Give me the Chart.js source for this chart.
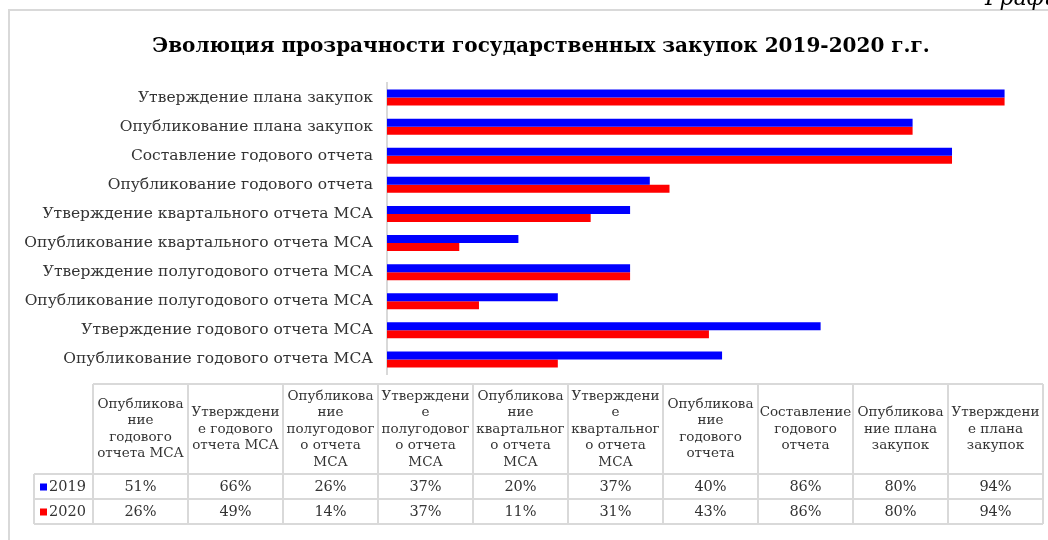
<!DOCTYPE html>
<html>
<head>
<meta charset="utf-8">
<script src="https://cdn.jsdelivr.net/npm/chart.js@4/dist/chart.umd.min.js"></script>
<style>
html, body { margin: 0; padding: 0; background: #fff; }
#wrap { position: relative; width: 1048px; height: 540px; overflow: hidden; }
</style>
</head>
<body>
<div id="wrap"><canvas id="chart" width="1048" height="540"></canvas></div>
<script>
// категории в порядке таблицы (в графике идут снизу вверх)
var categories = [
	'Опубликование годового отчета МСА',
	'Утверждение годового отчета МСА',
	'Опубликование полугодового отчета МСА',
	'Утверждение полугодового отчета МСА',
	'Опубликование квартального отчета МСА',
	'Утверждение квартального отчета МСА',
	'Опубликование годового отчета',
	'Составление годового отчета',
	'Опубликование плана закупок',
	'Утверждение плана закупок'
];
// заголовки столбцов таблицы данных, с переносами как в оригинале
var tableHeaders = [
	['Опубликова', 'ние', 'годового', 'отчета МСА'],
	['Утверждени', 'е годового', 'отчета МСА'],
	['Опубликова', 'ние', 'полугодовог', 'о отчета', 'МСА'],
	['Утверждени', 'е', 'полугодовог', 'о отчета', 'МСА'],
	['Опубликова', 'ние', 'квартальног', 'о отчета', 'МСА'],
	['Утверждени', 'е', 'квартальног', 'о отчета', 'МСА'],
	['Опубликова', 'ние', 'годового', 'отчета'],
	['Составление', 'годового', 'отчета'],
	['Опубликова', 'ние плана', 'закупок'],
	['Утверждени', 'е плана', 'закупок']
];
var seriesNames = ['2019', '2020'];
var values2019 = [51, 66, 26, 37, 20, 37, 40, 86, 80, 94];
var values2020 = [26, 49, 14, 37, 11, 31, 43, 86, 80, 94];
var seriesColors = ['#0000ff', '#ff0000'];
var chartTitle = 'Эволюция прозрачности государственных закупок 2019-2020 г.г.';

var SERIF = '"DejaVu Serif", serif';
var GRID = '#d9d9d9';

// рамка области диаграммы, заголовок и обрывок подписи из документа
var framePlugin = {
	id: 'frame',
	beforeDraw: function (chart) {
		var ctx = chart.ctx;
		ctx.save();
		ctx.strokeStyle = GRID;
		ctx.lineWidth = 2;
		ctx.strokeRect(9, 10, 1200, 700);
		ctx.fillStyle = '#000';
		ctx.font = 'italic 22px ' + SERIF;
		ctx.textBaseline = 'alphabetic';
		ctx.fillText('График 1', 985, 5);
		ctx.font = 'bold 20px ' + SERIF;
		ctx.textAlign = 'center';
		ctx.fillText(chartTitle, 541, 52);
		ctx.restore();
	}
};

// таблица данных под графиком
var tablePlugin = {
	id: 'dataTable',
	afterDraw: function (chart) {
		var ctx = chart.ctx,
			area = chart.chartArea,
			legendLeft = 34,
			left = 93,
			right = area.right - 1,
			top = 384,
			headBottom = 474,
			rowH = 25,
			colW = (right - left) / categories.length,
			rows = [values2019, values2020],
			i, j;
		ctx.save();
		ctx.strokeStyle = GRID;
		ctx.lineWidth = 2;
		ctx.beginPath();
		ctx.moveTo(left, top); ctx.lineTo(right, top);
		for (j = 0; j <= rows.length; j++) {
			ctx.moveTo(legendLeft, headBottom + j * rowH);
			ctx.lineTo(right, headBottom + j * rowH);
		}
		ctx.moveTo(legendLeft, headBottom);
		ctx.lineTo(legendLeft, headBottom + rows.length * rowH);
		for (i = 0; i <= categories.length; i++) {
			ctx.moveTo(left + i * colW, top);
			ctx.lineTo(left + i * colW, headBottom + rows.length * rowH);
		}
		ctx.stroke();

		ctx.fillStyle = '#333';
		ctx.textAlign = 'center';
		ctx.textBaseline = 'middle';
		ctx.font = '13.5px ' + SERIF;
		var lh = 16.5, mid = (top + headBottom) / 2;
		tableHeaders.forEach(function (lines, c) {
			var cx = left + (c + 0.5) * colW,
				y0 = mid - (lines.length - 1) * lh / 2;
			lines.forEach(function (t, k) {
				ctx.fillText(t, cx, y0 + k * lh);
			});
		});

		ctx.font = '14.5px ' + SERIF;
		rows.forEach(function (vals, r) {
			var cy = headBottom + (r + 0.5) * rowH + 1;
			vals.forEach(function (v, c) {
				ctx.fillText(v + '%', left + (c + 0.5) * colW, cy);
			});
			ctx.fillStyle = seriesColors[r];
			ctx.fillRect(40, cy - 4, 7, 7);
			ctx.fillStyle = '#333';
			ctx.textAlign = 'left';
			ctx.fillText(seriesNames[r], 49, cy);
			ctx.textAlign = 'center';
		});
		ctx.restore();
	}
};

new Chart(document.getElementById('chart'), {
	type: 'bar',
	data: {
		labels: categories,
		datasets: [
			{ label: seriesNames[0], data: values2019, backgroundColor: seriesColors[0] },
			{ label: seriesNames[1], data: values2020, backgroundColor: seriesColors[1] }
		]
	},
	options: {
		indexAxis: 'y',
		responsive: false,
		animation: false,
		datasets: { bar: { categoryPercentage: 0.55, barPercentage: 1 } },
		layout: { padding: { top: 83, right: 4, bottom: 166, left: 0 } },
		plugins: {
			legend: { display: false },
			tooltip: { enabled: false },
			title: { display: false }
		},
		scales: {
			x: { display: false, min: 0, max: 100 },
			y: {
				reverse: true,
				grid: { display: false, drawTicks: false },
				border: { display: true, color: GRID, width: 2 },
				ticks: { color: '#333', font: { family: SERIF, size: 15.5 }, padding: 14 },
				afterFit: function (s) { s.width = 387; }
			}
		}
	},
	plugins: [framePlugin, tablePlugin]
});
</script>
</body>
</html>
